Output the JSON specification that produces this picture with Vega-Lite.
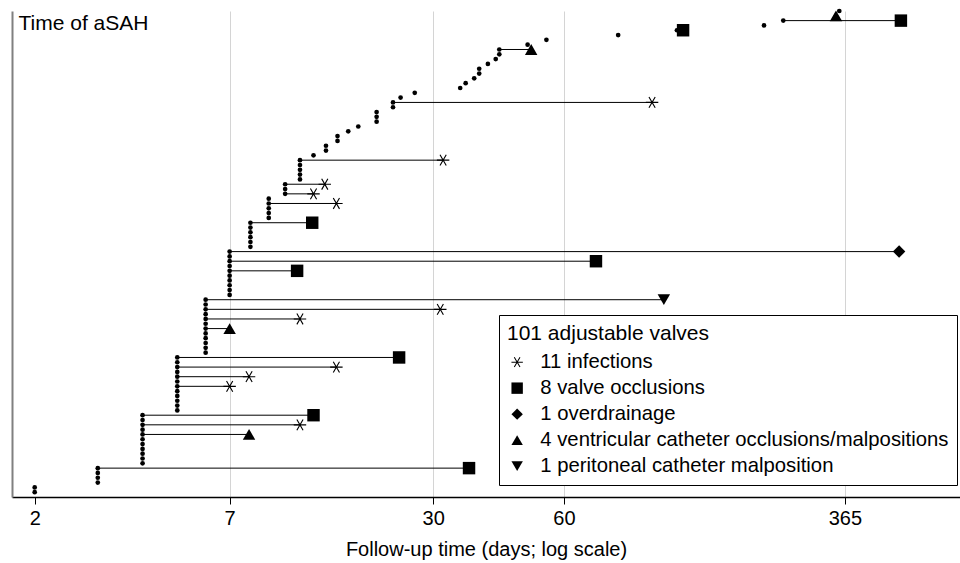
{
  "$schema": "https://vega.github.io/schema/vega-lite/v6.json",
  "autosize": {"type": "none"},
  "width": 948,
  "height": 486,
  "padding": {"left": 12, "top": 11, "right": 0, "bottom": 66},
  "background": "white",
  "config": {
    "view": {"stroke": null},
    "font": "Liberation Sans",
    "axis": {"labelFont": "Liberation Sans", "titleFont": "Liberation Sans"},
    "legend": {"labelFont": "Liberation Sans", "titleFont": "Liberation Sans"}
  },
  "datasets": {
    "valves": [
      {"valve": 1, "shunt_day": 2},
      {"valve": 2, "shunt_day": 2},
      {"valve": 3, "shunt_day": 3},
      {"valve": 4, "shunt_day": 3},
      {"valve": 5, "shunt_day": 3},
      {"valve": 6, "shunt_day": 3, "event_day": 32.6, "event": "8 valve occlusions"},
      {"valve": 7, "shunt_day": 4},
      {"valve": 8, "shunt_day": 4},
      {"valve": 9, "shunt_day": 4},
      {"valve": 10, "shunt_day": 4},
      {"valve": 11, "shunt_day": 4},
      {"valve": 12, "shunt_day": 4},
      {"valve": 13, "shunt_day": 4, "event_day": 7.93, "event": "4 ventricular catheter occlusions/malpositions"},
      {"valve": 14, "shunt_day": 4},
      {"valve": 15, "shunt_day": 4, "event_day": 11, "event": "11 infections"},
      {"valve": 16, "shunt_day": 4},
      {"valve": 17, "shunt_day": 4, "event_day": 12, "event": "8 valve occlusions"},
      {"valve": 18, "shunt_day": 5},
      {"valve": 19, "shunt_day": 5},
      {"valve": 20, "shunt_day": 5},
      {"valve": 21, "shunt_day": 5},
      {"valve": 22, "shunt_day": 5},
      {"valve": 23, "shunt_day": 5, "event_day": 7, "event": "11 infections"},
      {"valve": 24, "shunt_day": 5},
      {"valve": 25, "shunt_day": 5, "event_day": 7.93, "event": "11 infections"},
      {"valve": 26, "shunt_day": 5},
      {"valve": 27, "shunt_day": 5, "event_day": 13.9, "event": "11 infections"},
      {"valve": 28, "shunt_day": 5},
      {"valve": 29, "shunt_day": 5, "event_day": 20.8, "event": "8 valve occlusions"},
      {"valve": 30, "shunt_day": 6},
      {"valve": 31, "shunt_day": 6},
      {"valve": 32, "shunt_day": 6},
      {"valve": 33, "shunt_day": 6},
      {"valve": 34, "shunt_day": 6},
      {"valve": 35, "shunt_day": 6, "event_day": 7, "event": "4 ventricular catheter occlusions/malpositions"},
      {"valve": 36, "shunt_day": 6},
      {"valve": 37, "shunt_day": 6, "event_day": 11, "event": "11 infections"},
      {"valve": 38, "shunt_day": 6},
      {"valve": 39, "shunt_day": 6, "event_day": 27.1, "event": "11 infections"},
      {"valve": 40, "shunt_day": 6},
      {"valve": 41, "shunt_day": 6, "event_day": 114, "event": "1 peritoneal catheter malposition"},
      {"valve": 42, "shunt_day": 7},
      {"valve": 43, "shunt_day": 7},
      {"valve": 44, "shunt_day": 7},
      {"valve": 45, "shunt_day": 7},
      {"valve": 46, "shunt_day": 7},
      {"valve": 47, "shunt_day": 7, "event_day": 10.8, "event": "8 valve occlusions"},
      {"valve": 48, "shunt_day": 7},
      {"valve": 49, "shunt_day": 7, "event_day": 73.7, "event": "8 valve occlusions"},
      {"valve": 50, "shunt_day": 7},
      {"valve": 51, "shunt_day": 7, "event_day": 517, "event": "1 overdrainage"},
      {"valve": 52, "shunt_day": 8},
      {"valve": 53, "shunt_day": 8},
      {"valve": 54, "shunt_day": 8},
      {"valve": 55, "shunt_day": 8},
      {"valve": 56, "shunt_day": 8},
      {"valve": 57, "shunt_day": 8, "event_day": 11.9, "event": "8 valve occlusions"},
      {"valve": 58, "shunt_day": 9},
      {"valve": 59, "shunt_day": 9},
      {"valve": 60, "shunt_day": 9},
      {"valve": 61, "shunt_day": 9, "event_day": 13.9, "event": "11 infections"},
      {"valve": 62, "shunt_day": 9},
      {"valve": 63, "shunt_day": 10, "event_day": 12, "event": "11 infections"},
      {"valve": 64, "shunt_day": 10},
      {"valve": 65, "shunt_day": 10, "event_day": 12.9, "event": "11 infections"},
      {"valve": 66, "shunt_day": 11},
      {"valve": 67, "shunt_day": 11},
      {"valve": 68, "shunt_day": 11},
      {"valve": 69, "shunt_day": 11},
      {"valve": 70, "shunt_day": 11, "event_day": 27.6, "event": "11 infections"},
      {"valve": 71, "shunt_day": 12},
      {"valve": 72, "shunt_day": 13},
      {"valve": 73, "shunt_day": 13},
      {"valve": 74, "shunt_day": 14},
      {"valve": 75, "shunt_day": 14},
      {"valve": 76, "shunt_day": 15},
      {"valve": 77, "shunt_day": 16},
      {"valve": 78, "shunt_day": 18},
      {"valve": 79, "shunt_day": 18},
      {"valve": 80, "shunt_day": 18},
      {"valve": 81, "shunt_day": 20},
      {"valve": 82, "shunt_day": 20, "event_day": 105.7, "event": "11 infections"},
      {"valve": 83, "shunt_day": 21},
      {"valve": 84, "shunt_day": 23},
      {"valve": 85, "shunt_day": 30.8},
      {"valve": 86, "shunt_day": 31.9},
      {"valve": 87, "shunt_day": 33.7},
      {"valve": 88, "shunt_day": 34.8},
      {"valve": 89, "shunt_day": 34.8},
      {"valve": 90, "shunt_day": 36.8},
      {"valve": 91, "shunt_day": 38.7},
      {"valve": 92, "shunt_day": 39.6},
      {"valve": 93, "shunt_day": 39.6, "event_day": 48.6, "event": "4 ventricular catheter occlusions/malpositions"},
      {"valve": 94, "shunt_day": 47.5},
      {"valve": 95, "shunt_day": 53.6},
      {"valve": 96, "shunt_day": 85},
      {"valve": 97, "shunt_day": 124, "event_day": 129, "event": "8 valve occlusions"},
      {"valve": 98, "shunt_day": 217},
      {"valve": 99, "shunt_day": 245.6, "event_day": 523, "event": "8 valve occlusions"},
      {"valve": 100, "shunt_day": 344.6, "event_day": 344.6, "event": "4 ventricular catheter occlusions/malpositions"},
      {"valve": 101, "shunt_day": 352}
    ]
  },
  "data": {"name": "valves"},
  "encoding": {
    "y": {
      "field": "valve",
      "type": "quantitative",
      "scale": {"domain": [0, 101], "nice": false, "zero": false},
      "axis": {
        "title": "Time of aSAH",
        "titleAngle": 0,
        "titleAlign": "left",
        "titleBaseline": "alphabetic",
        "titleX": 6,
        "titleY": 18,
        "titleFontSize": 21,
        "titleFontWeight": "normal",
        "titleColor": "black",
        "titleLimit": 1000,
        "labels": false,
        "ticks": false,
        "grid": false,
        "domainColor": "#808080",
        "domainWidth": 2
      }
    }
  },
  "layer": [
    {
      "transform": [{"filter": "isValid(datum.event)"}],
      "mark": {"type": "rule", "color": "black", "strokeWidth": 1},
      "encoding": {
        "x": {
          "field": "shunt_day",
          "type": "quantitative",
          "scale": {"type": "log", "domain": [1.7286, 764.6], "nice": false},
          "axis": {
            "values": [2, 7, 25.9, 60, 365],
            "labelExpr": "datum.value > 25 && datum.value < 27 ? '30' : format(datum.value, 'd')",
            "title": "Follow-up time (days; log scale)",
            "titleFontSize": 20,
            "titleFontWeight": "normal",
            "titleColor": "black",
            "titlePadding": 11,
            "labelFontSize": 20,
            "labelColor": "black",
            "labelPadding": 4,
            "labelFlush": false,
            "tickSize": 7,
            "tickColor": "black",
            "tickWidth": 1,
            "domainColor": "black",
            "domainWidth": 1.5,
            "grid": true,
            "gridColor": "#d4d4d4",
            "gridWidth": 1,
            "gridOpacity": {"condition": {"test": "datum.value < 3", "value": 0}, "value": 1}
          }
        },
        "x2": {"field": "event_day"}
      }
    },
    {
      "mark": {"type": "circle", "color": "black", "size": 22, "opacity": 1},
      "encoding": {
        "x": {"field": "shunt_day", "type": "quantitative"}
      }
    },
    {
      "transform": [{"filter": "isValid(datum.event)"}],
      "mark": {"type": "point", "filled": true, "color": "black", "strokeWidth": 0, "size": 155, "opacity": 1},
      "encoding": {
        "x": {"field": "event_day", "type": "quantitative"},
        "shape": {
          "field": "event",
          "type": "nominal",
          "scale": {
            "domain": ["11 infections", "8 valve occlusions", "1 overdrainage", "4 ventricular catheter occlusions/malpositions", "1 peritoneal catheter malposition"],
            "range": ["M-1,-0.09L1,-0.09L1,0.09L-1,0.09ZM-0.5779,-0.821L-0.4221,-0.911L0.5779,0.821L0.4221,0.911ZM-0.4221,0.911L-0.5779,0.821L0.4221,-0.911L0.5779,-0.821Z", "square", "diamond", "triangle-up", "triangle-down"]
          },
          "legend": {
            "title": "101 adjustable valves",
            "titleLimit": 2000,
            "orient": "none",
            "legendX": 487,
            "legendY": 304,
            "strokeColor": "black",
            "fillColor": "white",
            "padding": 8,
            "titleFontSize": 21,
            "titleFontWeight": "normal",
            "titleColor": "black",
            "titlePadding": 8,
            "labelFontSize": 20.3,
            "labelColor": "black",
            "labelLimit": 2000,
            "labelOffset": 13,
            "rowPadding": 5,
            "symbolSize": 130,
            "symbolFillColor": "black",
            "symbolStrokeWidth": 0
          }
        }
      }
    }
  ]
}
